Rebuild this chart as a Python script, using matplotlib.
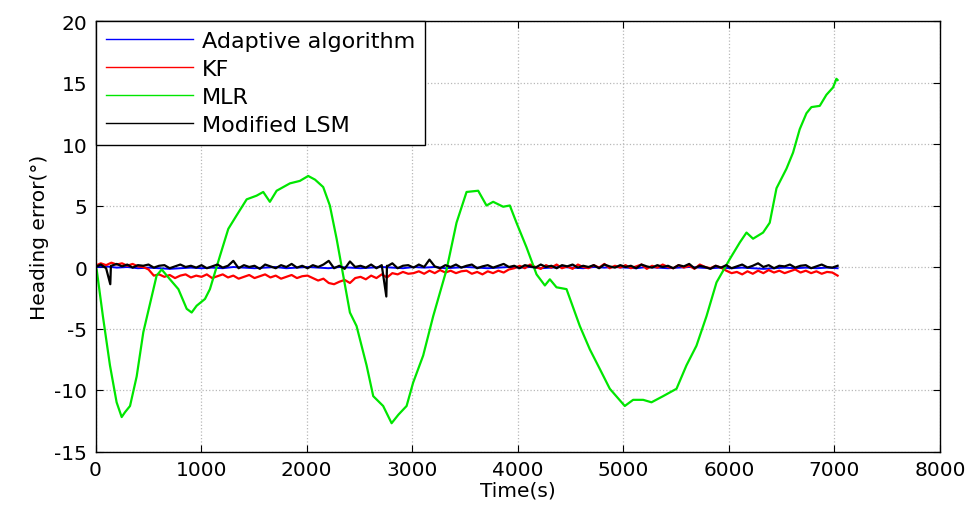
import numpy as np
import matplotlib.pyplot as plt

plt.rcParams['font.family'] = ['DejaVu Sans']
plt.rcParams['axes.unicode_minus'] = False

# MLR heading error (time s, error deg)
mlr_t = [0, 11, 70, 137, 200, 248, 280, 327, 390, 453, 579, 627, 705, 785, 864, 911, 958,
         1037, 1084, 1179, 1258, 1337, 1432, 1526, 1589, 1652, 1716, 1842, 1936, 2015, 2080,
         2157, 2220, 2284, 2347, 2410, 2473, 2568, 2631, 2725, 2805, 2870, 2947, 3009, 3104,
         3199, 3326, 3420, 3515, 3625, 3704, 3767, 3862, 3925, 3988, 4083, 4178, 4257, 4304,
         4367, 4462, 4588, 4683, 4778, 4872, 5014, 5093, 5188, 5267, 5377, 5504, 5598, 5693,
         5788, 5883, 6009, 6104, 6167, 6229, 6324, 6387, 6451, 6546, 6608, 6671, 6735, 6782,
         6861, 6924, 6987, 7019, 7030]
mlr = [0.0, -0.2, -4.0, -8.0, -11.0, -12.2, -11.8, -11.3, -8.9, -5.3, -0.7, -0.2, -1.0, -1.8,
       -3.4, -3.7, -3.15, -2.6, -1.8, 0.9, 3.1, 4.2, 5.5, 5.8, 6.1, 5.3, 6.2, 6.8, 7.0, 7.4, 7.1,
       6.5, 5.0, 2.3, -0.7, -3.7, -4.8, -8.0, -10.5, -11.3, -12.7, -12.0, -11.3, -9.4, -7.2,
       -4.0, -0.2, 3.6, 6.1, 6.2, 5.0, 5.3, 4.9, 5.0, 3.6, 1.6, -0.6, -1.5, -1.0,
       -1.65, -1.8, -4.8, -6.7, -8.3, -9.9, -11.3, -10.8, -10.8, -11.0, -10.5, -9.9, -8.0, -6.4,
       -4.0, -1.25, 0.65, 2.0, 2.8, 2.3, 2.8, 3.6, 6.4, 8.0, 9.3, 11.2, 12.5, 13.0,
       13.1, 14.0, 14.6, 15.3, 15.2]

# modified LSM, sampled every ~50 s
lsm = [0.0, 0.2, -0.1, 0.1, 0.25, 0.05, 0.2, -0.05, 0.15, 0.1,
       0.2, -0.05, 0.1, 0.15, -0.1, 0.05, 0.2, 0.0, 0.1, -0.05,
       0.15, -0.1, 0.05, 0.2, -0.05, 0.1, 0.5, -0.1, 0.15, 0.0,
       0.1, -0.15, 0.2, 0.05, -0.1, 0.15, 0.0, 0.25, -0.05, 0.1,
       -0.1, 0.15, 0.0, 0.2, 0.5, -0.1, 0.1, -0.15, 0.45, 0.0,
       0.1, -0.05, 0.2, -0.1, 0.15, 0.05, 0.3, -0.1, 0.1, 0.15,
       -0.05, 0.2, 0.0, 0.6, 0.05, -0.1, 0.15, 0.0, 0.2, -0.05,
       0.1, 0.2, -0.1, 0.05, 0.15, -0.05, 0.1, 0.25, 0.0, 0.1,
       -0.1, 0.15, 0.05, -0.05, 0.2, 0.0, 0.1, -0.1, 0.15, 0.05,
       0.2, -0.05, 0.1, 0.0, 0.15, -0.1, 0.2, 0.05, -0.05, 0.15,
       0.0, 0.1, -0.1, 0.2, 0.05, -0.05, 0.15, 0.0, 0.1, -0.1,
       0.15, 0.05, 0.25, -0.1, 0.1, 0.0, -0.15, 0.1, -0.05, 0.15,
       -0.1, 0.05, 0.2, -0.05, 0.1, 0.3, 0.0, 0.15, -0.1, 0.1,
       0.05, 0.2, -0.05, 0.1, 0.15, -0.1, 0.05, 0.2, 0.0, -0.05,
       0.1]
# the two sharp downward spikes of the LSM trace
lsm_spike_t = [140, 146, 2755, 2761]
lsm_spike = [-1.4, 0.1, -2.4, 0.1]

# KF, sampled every ~50 s
kf = [0.1, 0.3, 0.15, 0.35, 0.2, 0.3, 0.1, 0.25, 0.05, 0.0,
      -0.2, -0.7, -0.6, -0.8, -0.65, -0.9, -0.7, -0.6, -0.85, -0.7,
      -0.8, -0.6, -0.9, -0.75, -0.6, -0.85, -0.7, -0.95, -0.8, -0.65,
      -0.9, -0.75, -0.6, -0.85, -0.7, -0.95, -0.8, -0.65, -0.9, -0.75,
      -0.7, -0.9, -1.1, -0.95, -1.3, -1.4, -1.2, -1.05, -1.3, -0.9,
      -0.8, -1.0, -0.7, -0.9, -0.6, -0.85, -0.5, -0.6, -0.4, -0.55,
      -0.5, -0.35, -0.55, -0.3, -0.5, -0.25, -0.45, -0.3, -0.5, -0.35,
      -0.3, -0.55, -0.4, -0.6, -0.35, -0.5, -0.3, -0.45, -0.2, -0.1,
      0.1, -0.1, 0.2, 0.0, -0.15, 0.15, -0.05, 0.2, -0.1, 0.05,
      -0.15, 0.2, 0.0, -0.1, 0.15, -0.05, 0.25, -0.1, 0.1, -0.05,
      0.15, -0.1, 0.05, 0.2, -0.15, 0.1, -0.05, 0.2, 0.0, -0.1,
      0.15, -0.05, 0.1, -0.15, 0.2, 0.0, -0.1, 0.1, -0.05, -0.3,
      -0.5, -0.4, -0.6, -0.35, -0.55, -0.3, -0.5, -0.25, -0.45, -0.3,
      -0.5, -0.35, -0.2, -0.45, -0.3, -0.5, -0.35, -0.55, -0.4, -0.45,
      -0.7]

# adaptive algorithm, sampled every ~100 s
adaptive = [0.0, 0.05, -0.05, 0.0, -0.1, -0.05, -0.1, -0.15, -0.1, -0.05,
            -0.1, -0.05, -0.1, 0.0, -0.05, -0.1, -0.05, 0.0, -0.1, -0.05,
            0.0, -0.05, -0.1, 0.0, -0.05, -0.1, -0.05, 0.0, -0.05, -0.1,
            0.0, -0.05, 0.0, -0.1, -0.05, 0.0, -0.05, -0.1, -0.05, 0.0,
            -0.05, 0.0, -0.1, -0.05, 0.0, -0.05, -0.1, 0.0, -0.05, 0.0,
            -0.05, -0.1, 0.0, -0.05, -0.1, -0.05, 0.0, -0.05, -0.1, -0.05,
            -0.1, -0.05, -0.1, -0.15, -0.1, -0.05, -0.1, -0.05, -0.1, -0.05,
            -0.1]

t_end = 7030
kf_t = np.linspace(0, t_end, len(kf))
ad_t = np.linspace(0, t_end, len(adaptive))
lsm_t = np.concatenate([np.linspace(0, t_end, len(lsm)), lsm_spike_t])
lsm_v = np.concatenate([lsm, lsm_spike])
order = np.argsort(lsm_t, kind='stable')
lsm_t, lsm_v = lsm_t[order], lsm_v[order]

fig = plt.figure(figsize=(9.71, 5.06), dpi=100)
ax = fig.add_axes([95.5 / 971, 1 - 452.5 / 506, 844.5 / 971, 430.5 / 506])

ax.plot(ad_t, adaptive, color='#0000ff', lw=1.4, label='Adaptive algorithm')
ax.plot(kf_t, kf, color='#ff0000', lw=1.6, label='KF')
ax.plot(mlr_t, mlr, color='#00e600', lw=1.6, label='MLR')
ax.plot(lsm_t, lsm_v, color='black', lw=1.6, label='Modified LSM')

ax.set_xlim(0, 8000)
ax.set_ylim(-15, 20)
ax.set_xticks(range(0, 8001, 1000))
ax.set_yticks(range(-15, 21, 5))
ax.grid(True, linestyle=':', color='#b8b8b8', lw=0.9)
ax.tick_params(direction='in', top=True, right=True, length=5, labelsize=14.5, pad=6)
for s in ax.spines.values():
    s.set_linewidth(1.0)

ax.set_xlabel('Time(s)', fontsize=14.5, labelpad=1)
ax.set_ylabel('Heading error(°)', fontsize=14.5, labelpad=4)

leg = ax.legend(loc='upper left', fontsize=16, frameon=True, fancybox=False,
                framealpha=1, edgecolor='black', borderaxespad=0,
                handlelength=3.95, handletextpad=0.4, labelspacing=0.36, borderpad=0.45)
leg.get_frame().set_linewidth(1.0)
for h in leg.get_lines():
    h.set_linewidth(1.0)

plt.savefig('out.png', dpi=100)
